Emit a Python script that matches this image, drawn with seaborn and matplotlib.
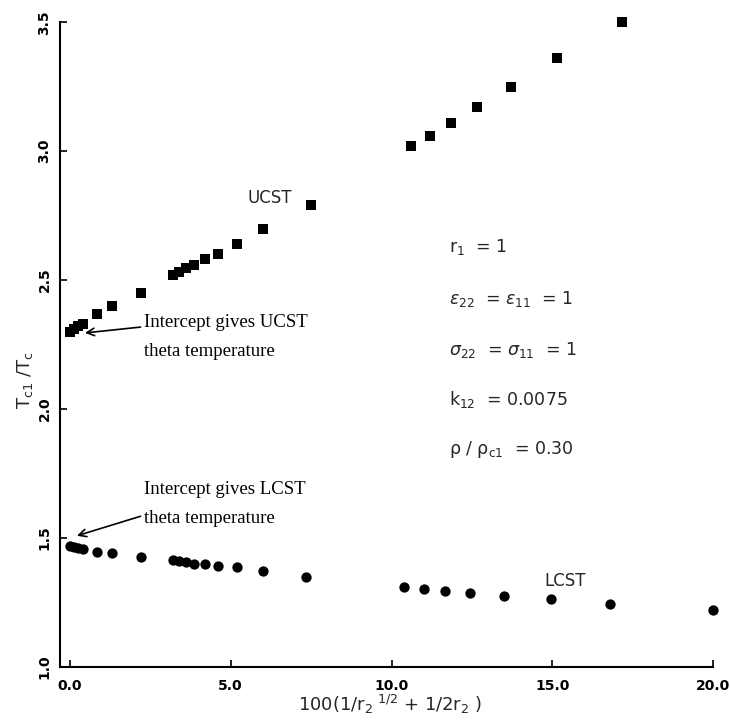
import matplotlib
matplotlib.use('Agg')
import matplotlib.pyplot as plt
import seaborn as sns
import pandas as pd

# values
x_ucst = [0.0, 0.12, 0.25, 0.4, 0.85, 1.3, 2.2, 3.2, 3.4, 3.6, 3.85, 4.2, 4.6, 5.2,
          6.0, 7.5, 10.6, 11.2, 11.85, 12.65, 13.7, 15.15, 17.15]
y_ucst = [2.30, 2.31, 2.32, 2.33, 2.37, 2.40, 2.45, 2.52, 2.53, 2.545, 2.56, 2.58, 2.60,
          2.64, 2.70, 2.79, 3.02, 3.06, 3.11, 3.17, 3.25, 3.36, 3.50]
x_lcst = [0.0, 0.12, 0.25, 0.4, 0.85, 1.3, 2.2, 3.2, 3.4, 3.6, 3.85, 4.2, 4.6, 5.2,
          6.0, 7.35, 10.4, 11.0, 11.65, 12.45, 13.5, 14.95, 16.8, 20.0]
y_lcst = [1.47, 1.465, 1.46, 1.455, 1.446, 1.442, 1.426, 1.415, 1.41, 1.405, 1.40, 1.40,
          1.39, 1.385, 1.37, 1.35, 1.31, 1.30, 1.295, 1.287, 1.275, 1.264, 1.244, 1.22]

x_ticks = [0, 5, 10, 15, 20]
y_ticks = [1.0, 1.5, 2.0, 2.5, 3.0, 3.5]

params = [r'r$_1$  = 1',
          r'$\varepsilon_{22}$  = $\varepsilon_{11}$  = 1',
          r'$\sigma_{22}$  = $\sigma_{11}$  = 1',
          r'k$_{12}$  = 0.0075',
          r'ρ / ρ$_\mathrm{c1}$  = 0.30']

ucst = pd.DataFrame({'x': x_ucst, 'y': y_ucst})
lcst = pd.DataFrame({'x': x_lcst, 'y': y_lcst})

sns.set_style('ticks')
plt.rcParams['font.family'] = ['DejaVu Sans']
plt.rcParams['mathtext.fontset'] = 'dejavusans'

fig = plt.figure(figsize=(7.3, 7.2), dpi=100)
ax = fig.add_axes([0.082, 0.074, 0.895, 0.895])

sns.scatterplot(data=ucst, x='x', y='y', marker='s', s=45, color='black',
                edgecolor='black', linewidth=0, ax=ax, clip_on=False)
sns.scatterplot(data=lcst, x='x', y='y', marker='o', s=55, color='black',
                edgecolor='black', linewidth=0, ax=ax, clip_on=False)

ax.set_xlim(-0.31, 20.0)
ax.set_ylim(1.0, 3.5)
ax.set_xticks(x_ticks)
ax.set_xticklabels([f'{t:.1f}' for t in x_ticks], fontweight='semibold')
ax.set_yticks(y_ticks)
ax.set_yticklabels([f'{t:.1f}' for t in y_ticks], rotation=90, va='center',
                   fontweight='semibold')
ax.tick_params(direction='in', length=5, width=1.2, labelsize=10, colors='black')
ax.tick_params(axis='x', pad=9)
ax.tick_params(axis='y', pad=6)
for s in ['left', 'bottom']:
    ax.spines[s].set_linewidth(1.5)
    ax.spines[s].set_color('black')
sns.despine(ax=ax)

ax.set_xlabel(r'100(1/r$_2$$^{\ 1/2}$ + 1/2r$_2$ )', fontsize=13, va='center')
ax.set_ylabel(r'T$_\mathrm{c1}$ /T$_\mathrm{c}$', fontsize=13, va='center')
ax.xaxis.set_label_coords(0.505, -0.059)
ax.yaxis.set_label_coords(-0.053, 0.445)

serif = dict(family='Liberation Serif', fontsize=13.5, color='black')
ax.annotate('Intercept gives UCST\ntheta temperature', xy=(0.47, 2.295), xytext=(2.3, 2.28),
            ha='left', va='center', linespacing=1.9, **serif,
            arrowprops=dict(arrowstyle='->', color='black', lw=1.2,
                            shrinkA=0, shrinkB=0, relpos=(0, 0.72)))
ax.annotate('Intercept gives LCST\ntheta temperature', xy=(0.22, 1.508), xytext=(2.3, 1.63),
            ha='left', va='center', linespacing=1.9, **serif,
            arrowprops=dict(arrowstyle='->', color='black', lw=1.2,
                            shrinkA=0, shrinkB=0, relpos=(-0.01, 0.25)))

ax.text(6.2, 2.82, 'UCST', fontsize=12, ha='center', va='center')
ax.text(15.4, 1.333, 'LCST', fontsize=12, ha='center', va='center')

y_par = [2.628, 2.426, 2.229, 2.035, 1.841]
for txt, yy in zip(params, y_par):
    ax.text(11.8, yy, txt, fontsize=12.5, ha='left', va='center')

fig.savefig('out.png', dpi=100)
